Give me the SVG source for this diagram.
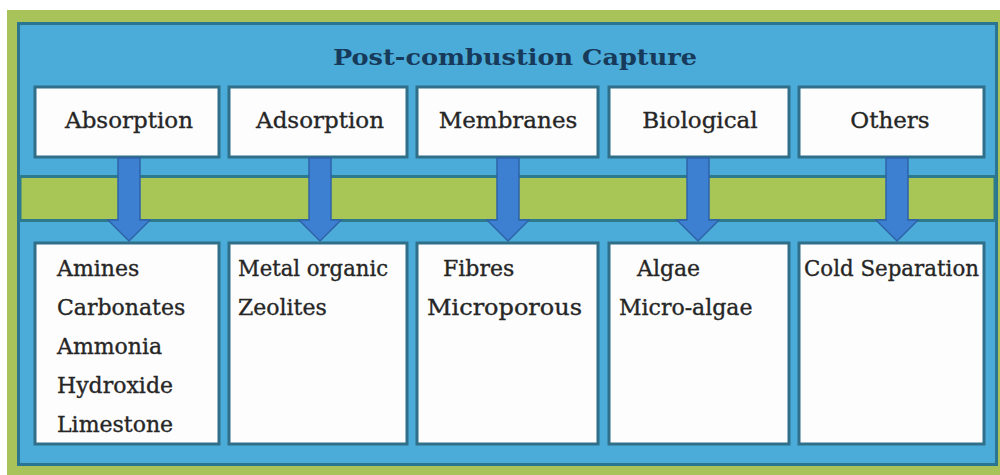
<svg xmlns="http://www.w3.org/2000/svg" width="1000" height="475" viewBox="0 0 1000 475">
  <defs>
    <style>
      .box { fill: #fdfdfd; stroke: #2f6f8a; stroke-width: 3; }
      .lbl { font-family: "DejaVu Serif", "Liberation Serif", serif; font-size: 22px; fill: #262626; stroke: #262626; stroke-width: 0.35; }
      .top { text-anchor: middle; font-size: 23px; }
      .title { font-family: "DejaVu Serif", "Liberation Serif", serif; font-size: 23px; font-weight: bold; fill: #173a5a; text-anchor: middle; }
      .arrow { fill: #3d7fd0; stroke: #2e63a8; stroke-width: 1.5; }
    </style>
  </defs>
  <rect x="0" y="0" width="1000" height="475" fill="#ffffff"/>
  <rect x="7" y="10" width="993" height="465" fill="#a8c35a"/>
  <rect x="18.5" y="23.5" width="978" height="441" fill="#4cacd9" stroke="#2c7590" stroke-width="3"/>
  <rect x="20" y="176.5" width="975" height="44" fill="#a8c655" stroke="#2c7a8c" stroke-width="3"/>
  <text class="title" x="515" y="65" textLength="364" lengthAdjust="spacingAndGlyphs">Post-combustion Capture</text>

  <g id="absorption">
    <rect class="box" x="35" y="87" width="184" height="70"/>
    <text class="lbl top" x="129" y="128">Absorption</text>
  </g>
  <g id="adsorption">
    <rect class="box" x="229" y="87" width="178" height="70"/>
    <text class="lbl top" x="320" y="128">Adsorption</text>
  </g>
  <g id="membranes">
    <rect class="box" x="417" y="87" width="181" height="70"/>
    <text class="lbl top" x="508" y="128">Membranes</text>
  </g>
  <g id="biological">
    <rect class="box" x="609" y="87" width="180" height="70"/>
    <text class="lbl top" x="700" y="128">Biological</text>
  </g>
  <g id="others">
    <rect class="box" x="799" y="87" width="185" height="70"/>
    <text class="lbl top" x="890" y="128">Others</text>
  </g>

  <g id="absorption-items">
    <rect class="box" x="35" y="243" width="184" height="201"/>
    <text class="lbl" x="57" y="276">Amines</text>
    <text class="lbl" x="57" y="315">Carbonates</text>
    <text class="lbl" x="57" y="354">Ammonia</text>
    <text class="lbl" x="57" y="393">Hydroxide</text>
    <text class="lbl" x="57" y="432">Limestone</text>
  </g>
  <g id="adsorption-items">
    <rect class="box" x="229" y="243" width="178" height="201"/>
    <text class="lbl" x="238" y="276" textLength="150" lengthAdjust="spacingAndGlyphs">Metal organic</text>
    <text class="lbl" x="238" y="315">Zeolites</text>
  </g>
  <g id="membranes-items">
    <rect class="box" x="417" y="243" width="181" height="201"/>
    <text class="lbl" x="443" y="276">Fibres</text>
    <text class="lbl" x="427" y="315" textLength="155" lengthAdjust="spacingAndGlyphs">Microporous</text>
  </g>
  <g id="biological-items">
    <rect class="box" x="609" y="243" width="180" height="201"/>
    <text class="lbl" x="637" y="276">Algae</text>
    <text class="lbl" x="619" y="315">Micro-algae</text>
  </g>
  <g id="others-items">
    <rect class="box" x="799" y="243" width="185" height="201"/>
    <text class="lbl" x="804" y="276" textLength="175" lengthAdjust="spacingAndGlyphs">Cold Separation</text>
  </g>

  <g id="connectors">
    <path class="arrow" d="M118,158 H140 V220 H150 L129,241 L108,220 H118 Z"/>
    <path class="arrow" d="M309,158 H331 V220 H341 L320,241 L299,220 H309 Z"/>
    <path class="arrow" d="M497,158 H519 V220 H529 L508,241 L487,220 H497 Z"/>
    <path class="arrow" d="M687,158 H709 V220 H719 L698,241 L677,220 H687 Z"/>
    <path class="arrow" d="M886,158 H908 V220 H918 L897,241 L876,220 H886 Z"/>
  </g>
</svg>
